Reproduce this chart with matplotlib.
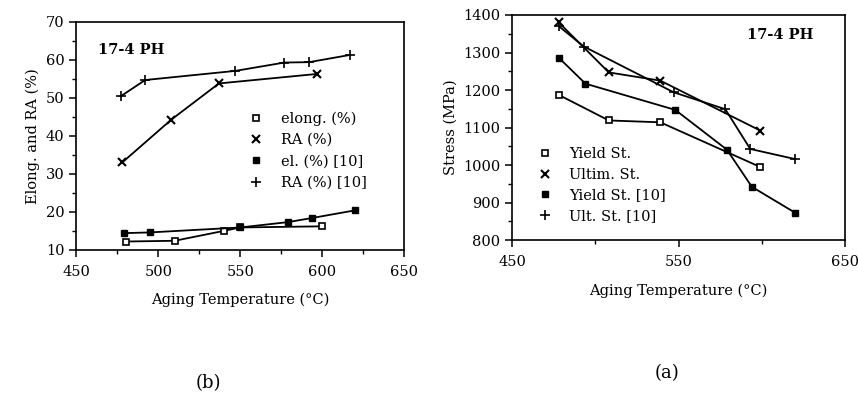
import matplotlib.pyplot as plt
import numpy as np
from matplotlib.ticker import MultipleLocator

plt.rcParams['font.family'] = ['DejaVu Serif']
plt.rcParams['font.size'] = 10

# (b) elongation and reduction of area
elong_T = [480, 510, 540, 550, 600]
elong = [12.2, 12.4, 15.0, 15.9, 16.2]
ra_T = [478, 508, 537, 597]
ra = [33.0, 44.3, 53.8, 56.3]
el10_T = [479, 495, 550, 579, 594, 620]
el10 = [14.4, 14.6, 15.9, 17.3, 18.4, 20.4]
ra10_T = [477, 492, 547, 577, 592, 617]
ra10 = [50.4, 54.7, 57.1, 59.3, 59.4, 61.3]

# (a) strength
ys_T = [478, 508, 539, 599]
ys = [1187, 1119, 1114, 995]
uts_T = [478, 508, 539, 599]
uts = [1380, 1247, 1225, 1092]
ys10_T = [478, 494, 548, 579, 594, 620]
ys10 = [1286, 1217, 1147, 1041, 942, 873]
uts10_T = [478, 493, 547, 578, 593, 620]
uts10 = [1370, 1316, 1194, 1149, 1043, 1016]

fig = plt.figure(figsize=(8.58, 4.05), dpi=100)
ax1 = fig.add_axes([0.089, 0.383, 0.382, 0.563])
ax2 = fig.add_axes([0.597, 0.407, 0.388, 0.556])

lw = 1.3
ms = 4.5
ax1.plot(elong_T, elong, '-s', color='black', mfc='white', mec='black', ms=ms, mew=1.2, lw=lw, label='elong. (%)')
ax1.plot(ra_T, ra, '-x', color='black', ms=5.5, mew=1.5, lw=lw, label='RA (%)')
ax1.plot(el10_T, el10, '-s', color='black', ms=ms, lw=lw, label='el. (%) [10]')
ax1.plot(ra10_T, ra10, '-+', color='black', ms=6.5, mew=1.2, lw=lw, label='RA (%) [10]')

ax1.set_xlim(450, 650)
ax1.set_ylim(10, 70)
ax1.xaxis.set_major_locator(MultipleLocator(50))
ax1.xaxis.set_minor_locator(MultipleLocator(25))
ax1.yaxis.set_major_locator(MultipleLocator(10))
ax1.yaxis.set_minor_locator(MultipleLocator(5))
ax1.set_xlabel('Aging Temperature (°C)', fontsize=10.5, labelpad=10)
ax1.set_ylabel('Elong. and RA (%)', fontsize=10.5, labelpad=4)
ax1.text(463, 62.6, '17-4 PH', fontsize=10.5, fontweight='bold', va='center')
leg1 = ax1.legend(loc='upper left', bbox_to_anchor=(0.49, 0.665), frameon=False,
                  handlelength=0.8, handletextpad=1.3, labelspacing=0.5, fontsize=10.5)

ax2.plot(ys_T, ys, '-s', color='black', mfc='white', mec='black', ms=ms, mew=1.2, lw=lw, label='Yield St.')
ax2.plot(uts_T, uts, '-x', color='black', ms=5.5, mew=1.5, lw=lw, label='Ultim. St.')
ax2.plot(ys10_T, ys10, '-s', color='black', ms=ms, lw=lw, label='Yield St. [10]')
ax2.plot(uts10_T, uts10, '-+', color='black', ms=6.5, mew=1.2, lw=lw, label='Ult. St. [10]')

ax2.set_xlim(450, 650)
ax2.set_ylim(800, 1400)
ax2.set_xticks([450, 550, 650])
ax2.xaxis.set_minor_locator(MultipleLocator(50))
ax2.yaxis.set_major_locator(MultipleLocator(100))
ax2.yaxis.set_minor_locator(MultipleLocator(50))
ax2.set_xlabel('Aging Temperature (°C)', fontsize=10.5, labelpad=10)
ax2.set_ylabel('Stress (MPa)', fontsize=10.5, labelpad=4)
ax2.text(631, 1347, '17-4 PH', fontsize=10.5, fontweight='bold', va='center', ha='right')
leg2 = ax2.legend(loc='upper left', bbox_to_anchor=(0.04, 0.47), frameon=False,
                  handlelength=0.8, handletextpad=1.3, labelspacing=0.45, fontsize=10.5)

for leg in (leg1, leg2):
    for h in leg.legend_handles:
        h.set_linestyle('None')

for ax in (ax1, ax2):
    for s in ax.spines.values():
        s.set_linewidth(1.2)
    ax.tick_params(which='major', direction='out', length=5, width=1.1, labelsize=10.5)
    ax.tick_params(which='minor', direction='out', length=3, width=1.0)
    ax.tick_params(axis='x', pad=6)

fig.text(0.243, 0.055, '(b)', fontsize=13, ha='center', va='center')
fig.text(0.777, 0.078, '(a)', fontsize=13, ha='center', va='center')

fig.savefig('out.png', dpi=100)
